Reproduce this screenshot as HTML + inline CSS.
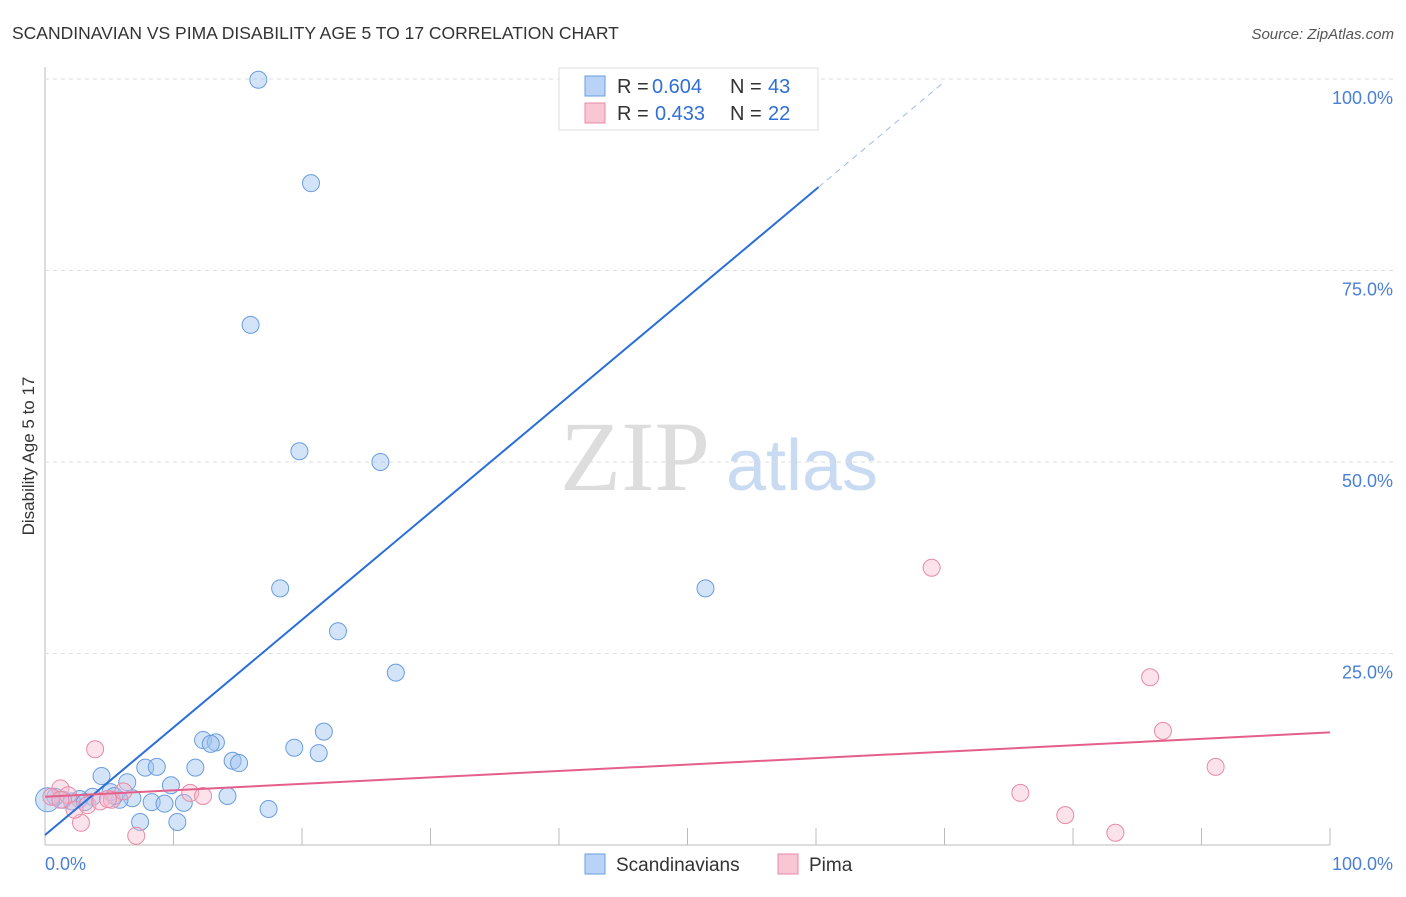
<!DOCTYPE html>
<html><head><meta charset="utf-8"><style>
body{margin:0;background:#fff;font-family:"Liberation Sans",sans-serif;}
</style></head><body>
<svg id="c" width="1406" height="892" xmlns="http://www.w3.org/2000/svg" font-family="Liberation Sans, sans-serif">
<text x="12" y="39" font-size="17.5" fill="#333">SCANDINAVIAN VS PIMA DISABILITY AGE 5 TO 17 CORRELATION CHART</text>
<text x="1394" y="39" font-size="15" fill="#555" font-style="italic" text-anchor="end">Source: ZipAtlas.com</text>
<text x="34" y="456" font-size="17" fill="#333" transform="rotate(-90 34 456)" text-anchor="middle">Disability Age 5 to 17</text>
<text x="635" y="490" font-size="100" fill="#ddd" style="font-family:'Liberation Serif',serif" text-anchor="middle">ZIP</text>
<text x="802" y="490" font-size="72" fill="#c9daf3" text-anchor="middle">atlas</text>
<g id="grid"></g><g id="pts"></g><g id="lines"></g>
<g>
<rect x="559" y="68" width="259" height="62" fill="#fff" stroke="#ddd"/>
<rect x="585" y="76" width="20" height="20" fill="#b8d3f5" stroke="#6a9de0"/>
<text x="617" y="93" font-size="20" fill="#333">R =</text>
<text x="652" y="93" font-size="20" fill="#2f6fd6">0.604</text>
<text x="730" y="93" font-size="20" fill="#333">N =</text>
<text x="768" y="93" font-size="20" fill="#2f6fd6">43</text>
<rect x="585" y="103" width="20" height="20" fill="#f9c7d4" stroke="#e88aa5"/>
<text x="617" y="120" font-size="20" fill="#333">R =</text>
<text x="655" y="120" font-size="20" fill="#2f6fd6">0.433</text>
<text x="730" y="120" font-size="20" fill="#333">N =</text>
<text x="768" y="120" font-size="20" fill="#2f6fd6">22</text>
</g>
<g>
<rect x="585" y="854" width="20" height="20" fill="#b8d3f5" stroke="#6a9de0"/>
<text x="616" y="871" font-size="19" fill="#333">Scandinavians</text>
<rect x="778" y="854" width="20" height="20" fill="#f9c7d4" stroke="#e88aa5"/>
<text x="809" y="871" font-size="19" fill="#333">Pima</text>
</g>
</svg>
<script>
const yTicks=[25,50,75,100];
const yTickLabels=["25.0%","50.0%","75.0%","100.0%"];
const xTicks=[0,10,20,30,40,50,60,70,80,90,100];
const blueX=[16.6,20.7,16.0,19.8,26.1,18.3,51.4,22.8,27.3,21.7,19.4,21.3,12.3,13.3,12.9,14.6,15.1,11.7,7.8,8.7,4.4,6.4,9.8,14.2,17.4,7.4,10.3,8.3,9.3,10.8,6.8,5.8,5.1,3.7,2.7,2.1,1.4,0.8,0.2,3.1,5.4,47.1];
const blueY=[99.9,86.4,67.9,51.4,50.0,33.5,33.5,27.9,22.5,14.8,12.7,12.0,13.7,13.4,13.2,11.0,10.7,10.1,10.1,10.2,9.0,8.2,7.8,6.4,4.7,3.0,3.0,5.6,5.4,5.5,6.1,5.9,6.9,6.3,6.0,5.7,5.9,6.3,5.9,5.6,6.4,99.9];
const pinkX=[69.0,86.0,87.0,91.1,75.9,79.4,83.3,3.9,11.3,12.3,7.1,2.8,1.2,0.5,1.8,2.3,3.3,4.3,5.2,6.1,4.9,1.2];
const pinkY=[36.2,21.9,14.9,10.2,6.8,3.9,1.6,12.5,6.8,6.4,1.2,2.9,7.4,6.3,6.5,4.6,5.2,5.7,5.9,7.0,6.0,5.9];
const blueFit=[1.3,1.405];
const pinkFit=[6.3,0.084];
const X=v=>45+v*12.85, Y=v=>845-v*7.66;
const NS="http://www.w3.org/2000/svg";
function mk(t,a,p){const e=document.createElementNS(NS,t);for(const k in a)e.setAttribute(k,a[k]);p.appendChild(e);return e;}
const g=document.getElementById('grid');
const ax=mk('line',{x1:45,y1:67,x2:45,y2:845,stroke:'#bbb'},g);


const bx=mk('line',{x1:45,y1:845,x2:1330,y2:845,stroke:'#bbb'},g);


yTicks.forEach((v,i)=>{
 const l=mk('line',{x1:45,y1:Y(v),x2:1394,y2:Y(v),stroke:'#ddd','stroke-dasharray':'4,4'},g);
 
 
 const t=mk('text',{x:1393,y:Y(v)+25,'font-size':18,fill:'#4a7fd6','text-anchor':'end'},g);
 t.textContent=yTickLabels[i];
 
 
});
xTicks.forEach(v=>{
 const l=mk('line',{x1:X(v),y1:828,x2:X(v),y2:845,stroke:'#bbb'},g);
 
 
});
[[0,"0.0%",'start',45],[100,"100.0%",'end',1393]].forEach(a=>{
 const t=mk('text',{x:a[3],y:870,'font-size':18,fill:'#4a7fd6','text-anchor':a[2]},g);
 t.textContent=a[1];
 
 
});
const p=document.getElementById('pts');
blueX.forEach((v,i)=>{
 const c=mk('circle',{cx:X(v),cy:Y(blueY[i]),r:i==38?12:8.5,fill:'rgba(160,195,240,0.45)',stroke:'#6a9de0','stroke-width':1},p);
 
 
});
pinkX.forEach((v,i)=>{
 const c=mk('circle',{cx:X(v),cy:Y(pinkY[i]),r:8.5,fill:'rgba(248,185,205,0.4)',stroke:'#e88aa5','stroke-width':1},p);
 
 
});
const L=document.getElementById('lines');
const b1=mk('line',{x1:X(0),y1:Y(blueFit[0]),x2:X(60.2),y2:Y(blueFit[0]+blueFit[1]*60.2),stroke:'#2a6ed8','stroke-width':2},L);


const b2=mk('line',{x1:X(60.2),y1:Y(blueFit[0]+blueFit[1]*60.2),x2:X(70),y2:Y(blueFit[0]+blueFit[1]*70),stroke:'#9bbbe8','stroke-width':1,'stroke-dasharray':'6,5'},L);


const p1=mk('line',{x1:X(0),y1:Y(pinkFit[0]),x2:X(100),y2:Y(pinkFit[0]+pinkFit[1]*100),stroke:'#e4608a','stroke-width':2},L);


</script>
</body></html>
